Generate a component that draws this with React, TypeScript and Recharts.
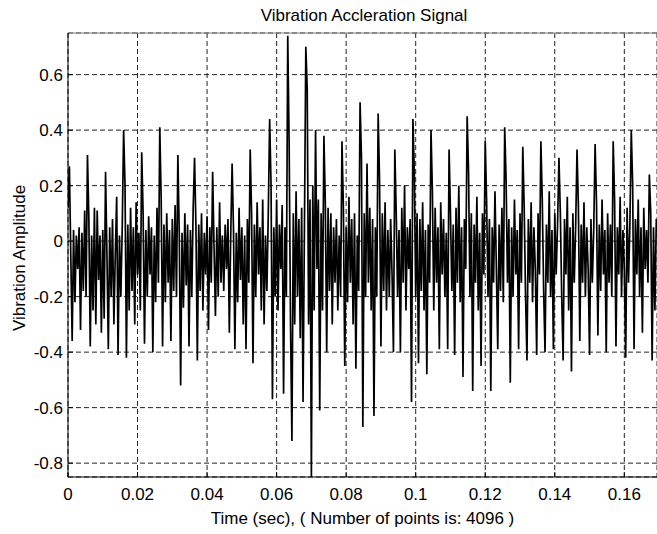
import React from "react";
import { LineChart, Line, XAxis, YAxis, CartesianGrid, ReferenceLine } from "recharts";

const chartTitle = "Vibration Accleration Signal";
const xAxisTitle = "Time (sec), ( Number of points is: 4096 )";
const yAxisTitle = "Vibration Amplitude";

const sampleStep = 0.0004; // seconds between plotted samples
const timeDomain = [0, 0.1694];
const ampDomain = [-0.85, 0.75];
const timeTicks = [0, 0.02, 0.04, 0.06, 0.08, 0.1, 0.12, 0.14, 0.16];
const timeTickLabels = ["0", "0.02", "0.04", "0.06", "0.08", "0.1", "0.12", "0.14", "0.16"];
const ampTicks = [-0.8, -0.6, -0.4, -0.2, 0, 0.2, 0.4, 0.6];
const ampTickLabels = ["-0.8", "-0.6", "-0.4", "-0.2", "0", "0.2", "0.4", "0.6"];

const amplitude = [
  0.12, 0.27, -0.05, -0.36, 0.04, -0.22, 0.02, -0.10, 0.05, -0.32, 0.03, -0.18, 0.11, -0.20,
  0.31, 0.08, -0.38, 0.02, -0.25, 0.12, -0.30, 0.11, -0.14, 0.02, -0.33, 0.04, -0.28,
  0.25, -0.05, -0.39, 0.05, -0.20, 0.08, -0.30, -0.05, 0.16, -0.41, 0.02, -0.20, 0.05,
  0.40, 0.20, -0.42, 0.06, -0.25, 0.12, -0.18, 0.05, -0.30, 0.14, -0.12, 0.03, -0.25,
  0.32, 0.10, -0.37, 0.04, -0.20, 0.09, -0.12, 0.05, -0.40, 0.02, -0.22, 0.12, -0.15,
  0.41, 0.15, -0.38, 0.06, -0.22, 0.10, -0.15, 0.04, -0.36, 0.08, -0.18, 0.13, -0.20,
  0.31, 0.02, -0.52, 0.03, -0.24, 0.10, -0.16, 0.06, -0.38, 0.04, -0.20, 0.12,
  0.30, 0.05, -0.43, 0.06, -0.18, 0.10, -0.25, 0.03, -0.12, 0.09, -0.32, 0.05, -0.15,
  0.25, -0.02, -0.27, 0.05, -0.20, 0.14, -0.15, 0.02, -0.18, 0.06, -0.10, 0.08, -0.33, 0.02,
  0.28, 0.04, -0.39, 0.03, -0.22, 0.12, -0.14, 0.05, -0.30, 0.02, -0.39, 0.08, -0.15,
  0.33, 0.10, -0.44, 0.06, -0.20, 0.14, -0.12, 0.05, -0.25, 0.15, -0.30, 0.02, -0.18, 0.10,
  0.44, 0.20, -0.57, 0.05, -0.20, 0.15, -0.25, 0.06, -0.10, 0.13, -0.55, 0.05, -0.20,
  0.74, 0.35, -0.30, -0.72, 0.10, -0.30, 0.18, -0.20, 0.08, -0.35, 0.12, -0.58, 0.05,
  0.70, 0.55, -0.30, 0.15, -0.85, 0.20, -0.25, 0.40, -0.10, 0.15, -0.61, 0.10, -0.25,
  0.38, 0.14, -0.40, 0.12, -0.18, 0.10, -0.30, 0.05, -0.15, 0.08, -0.25, 0.02, -0.20,
  0.36, 0.12, -0.45, 0.05, -0.22, 0.16, -0.15, 0.08, -0.30, 0.10, -0.46, 0.02, -0.18,
  0.50, 0.30, -0.67, 0.10, -0.20, 0.28, -0.15, 0.12, -0.25, 0.08, -0.63, 0.05, -0.20,
  0.46, 0.22, -0.38, 0.10, -0.18, 0.14, -0.25, 0.04, -0.20, 0.08, -0.12, -0.40,
  0.33, 0.10, -0.20, 0.04, -0.40, 0.12, -0.15, 0.20, -0.25, 0.05, -0.10, 0.08, -0.58,
  0.44, 0.25, -0.20, 0.10, -0.44, 0.08, -0.18, 0.14, -0.25, 0.04, -0.48, 0.06, -0.15,
  0.40, 0.18, -0.25, 0.12, -0.15, 0.05, -0.39, 0.14, -0.12, 0.08, -0.20, 0.03, -0.39,
  0.33, 0.10, -0.18, 0.06, -0.41, 0.12, -0.15, 0.20, -0.22, 0.05, -0.49, 0.08, -0.10,
  0.45, 0.25, -0.20, 0.10, -0.54, 0.06, -0.15, 0.16, -0.25, 0.03, -0.45, 0.10, -0.12,
  0.36, 0.14, -0.20, 0.08, -0.54, 0.05, -0.15, 0.18, -0.10, -0.39, 0.06, -0.18, 0.12, -0.22,
  0.41, 0.22, -0.15, 0.08, -0.51, 0.05, -0.20, 0.15, -0.12, 0.04, -0.39, 0.10, -0.15,
  0.34, 0.12, -0.20, -0.43, 0.08, -0.15, 0.14, -0.22, 0.05, -0.10, -0.41, 0.10, -0.12,
  0.36, 0.15, -0.18, -0.40, 0.06, -0.15, 0.18, -0.20, 0.04, -0.39, 0.10, -0.12, 0.06,
  0.30, 0.10, -0.20, -0.43, 0.08, -0.12, 0.16, -0.25, 0.05, -0.47, 0.10, -0.15, 0.05,
  0.33, 0.12, -0.36, 0.06, -0.15, 0.14, -0.20, 0.05, -0.10, -0.41, 0.08, -0.15, 0.04,
  0.35, 0.14, -0.34, 0.06, -0.18, 0.15, -0.12, 0.04, -0.40, 0.10, -0.15, 0.06, -0.20,
  0.36, 0.15, -0.38, 0.05, -0.12, 0.16, -0.20, 0.04, -0.10, -0.42, 0.12, -0.15, 0.06,
  0.40, 0.20, -0.39, 0.08, -0.12, 0.15, -0.20, 0.05, -0.33, 0.12, -0.10, 0.04, -0.15,
  0.24, 0.10, -0.43, 0.05, -0.25, 0.08,
];

const data = amplitude.map((v, i) => ({ t: i * sampleStep, v }));

const FONT = "'Liberation Sans', Arial, Helvetica, sans-serif";
const tickStyle = { fontSize: 17, fill: "#000", fontFamily: FONT };

const fmtTime = (v: number) => {
  const idx = timeTicks.findIndex((x) => Math.abs(x - v) < 1e-9);
  return idx >= 0 ? timeTickLabels[idx] : String(v);
};
const fmtAmp = (v: number) => {
  const idx = ampTicks.findIndex((x) => Math.abs(x - v) < 1e-9);
  return idx >= 0 ? ampTickLabels[idx] : String(v);
};

const renderXLabel = (props: any) => {
  const vb = props.viewBox || {};
  const cx = vb.x + vb.width / 2;
  return (
    <text x={cx} y={vb.y + 47} textAnchor="middle" fontSize={17} fontFamily={FONT} fill="#000">
      {xAxisTitle}
    </text>
  );
};

const renderYLabel = (props: any) => {
  const vb = props.viewBox || {};
  const cx = 25;
  const cy = vb.y + vb.height / 2 + 3;
  return (
    <text
      x={cx}
      y={cy}
      transform={`rotate(-90 ${cx} ${cy})`}
      textAnchor="middle"
      fontSize={17}
      fontFamily={FONT}
      fill="#000"
    >
      {yAxisTitle}
    </text>
  );
};

export default function App() {
  return (
    <div style={{ position: "absolute", left: 0, top: 0, width: 657, height: 534, background: "#fff" }}>
      <div
        style={{
          position: "absolute",
          left: 69,
          width: 590,
          top: 6,
          textAlign: "center",
          fontFamily: FONT,
          fontSize: 17,
          lineHeight: "20px",
          color: "#000",
        }}
      >
        {chartTitle}
      </div>
      <LineChart
        width={657}
        height={534}
        data={data}
        margin={{ top: 33, right: 0, bottom: 0, left: 0 }}
      >
        <CartesianGrid stroke="#222" strokeDasharray="5 3" />
        <XAxis
          dataKey="t"
          type="number"
          domain={timeDomain}
          ticks={timeTicks}
          tickFormatter={fmtTime}
          allowDataOverflow
          interval={0}
          height={57}
          tick={tickStyle}
          tickSize={-5}
          tickMargin={16}
          stroke="#000"
          axisLine={{ stroke: "#000", strokeWidth: 1 }}
          tickLine={{ stroke: "#000" }}
          label={renderXLabel}
        />
        <YAxis
          dataKey="v"
          type="number"
          domain={ampDomain}
          ticks={ampTicks}
          tickFormatter={fmtAmp}
          allowDataOverflow
          interval={0}
          width={68}
          tick={tickStyle}
          tickSize={-5}
          tickMargin={10}
          stroke="#000"
          axisLine={{ stroke: "#000", strokeWidth: 1 }}
          tickLine={{ stroke: "#000" }}
          label={renderYLabel}
        />
        <ReferenceLine y={0.75} stroke="#808080" strokeWidth={1} />
        <Line
          type="linear"
          dataKey="v"
          stroke="#000"
          strokeWidth={1.7}
          dot={false}
          activeDot={false}
          isAnimationActive={false}
        />
      </LineChart>
    </div>
  );
}
